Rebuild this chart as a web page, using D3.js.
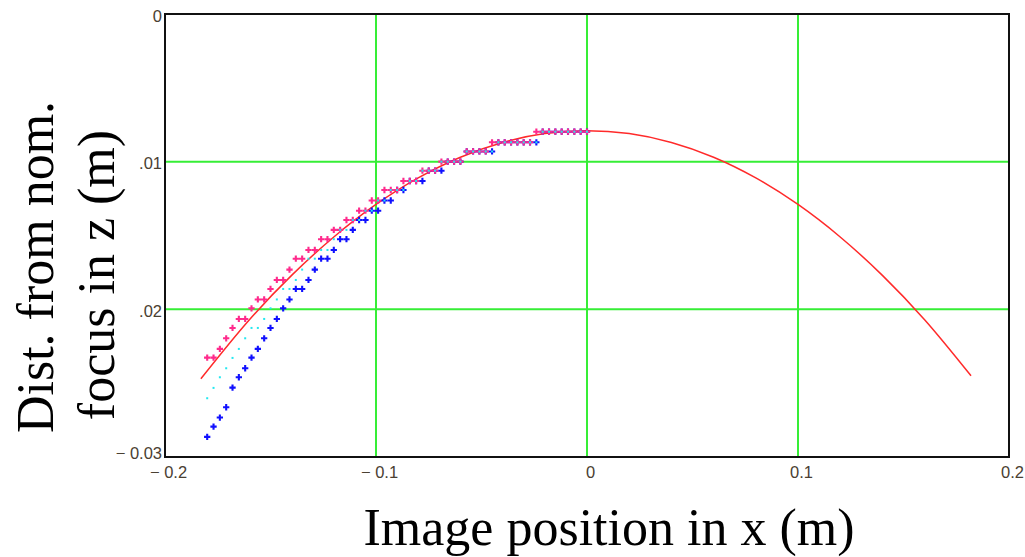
<!DOCTYPE html>
<html>
<head>
<meta charset="utf-8">
<script src="https://cdn.jsdelivr.net/npm/d3@7"></script>
<style>
  html, body { margin: 0; padding: 0; background: #fff; }
  svg { display: block; }
</style>
</head>
<body>
<svg id="chart" width="1025" height="557"></svg>
<script>
// ---------------- data ----------------
const xTicks = [-0.2, -0.1, 0, 0.1, 0.2];
const xTickLabels = ["\u2212 0.2", "\u2212 0.1", "0", "0.1", "0.2"];
const yTicks = [0, -0.01, -0.02, -0.03];
const yTickLabels = ["0", ".01", ".02", "\u2212 0.03"];
const xGrid = [-0.1, 0, 0.1];
const yGrid = [-0.01, -0.02];

// fitted curve (red)
const curveX = [-0.183, -0.16, -0.14, -0.12, -0.10, -0.08, -0.06, -0.04, -0.02, 0,
                 0.02, 0.04, 0.06, 0.08, 0.10, 0.12, 0.14, 0.16, 0.182];
const curveY = [-0.0247, -0.0207, -0.0177, -0.0151, -0.0129, -0.0111, -0.0097, -0.0087, -0.0081, -0.0079,
                -0.0081, -0.0087, -0.0097, -0.0111, -0.0129, -0.0151, -0.0177, -0.0207, -0.0245];

// measured image positions
const sampleX = [-0.180, -0.177, -0.174, -0.171, -0.168, -0.165, -0.162, -0.159, -0.156, -0.153,
                 -0.150, -0.147, -0.144, -0.141, -0.138, -0.135, -0.132, -0.129, -0.126, -0.123,
                 -0.120, -0.117, -0.114, -0.111, -0.108, -0.105, -0.102, -0.099, -0.096, -0.093,
                 -0.090, -0.087, -0.084, -0.081, -0.078, -0.075, -0.072, -0.069, -0.066, -0.063,
                 -0.060, -0.057, -0.054, -0.051, -0.048, -0.045, -0.042, -0.039, -0.036, -0.033,
                 -0.030, -0.027, -0.024, -0.021, -0.018, -0.015, -0.012, -0.009, -0.006, -0.003, 0.000];

const pinkY = [-0.02327, -0.02327, -0.02268, -0.02196, -0.02126, -0.02065, -0.02065, -0.01993, -0.01933, -0.01933,
               -0.01862, -0.01801, -0.01801, -0.01731, -0.01657, -0.01657, -0.01598, -0.01598, -0.01525, -0.01525,
               -0.01462, -0.01462, -0.01395, -0.01395, -0.01332, -0.01332, -0.01263, -0.01263, -0.01192, -0.01192,
               -0.01192, -0.01131, -0.01131, -0.01131, -0.01061, -0.01061, -0.01061, -0.01000, -0.01000, -0.01000,
               -0.01000, -0.00931, -0.00931, -0.00931, -0.00931, -0.00869, -0.00869, -0.00869, -0.00869, -0.00869,
               -0.00869, -0.00869, -0.00797, -0.00797, -0.00797, -0.00797, -0.00797, -0.00797, -0.00797, -0.00797, -0.00797];

const blueY = [-0.02864, -0.02794, -0.02733, -0.02663, -0.02530, -0.02460, -0.02399, -0.02327, -0.02268, -0.02196,
               -0.02126, -0.02065, -0.01993, -0.01933, -0.01862, -0.01862, -0.01801, -0.01731, -0.01657, -0.01657,
               -0.01598, -0.01525, -0.01525, -0.01462, -0.01395, -0.01395, -0.01332, -0.01332, -0.01263, -0.01263,
               -0.01192, -0.01192, -0.01131, -0.01131, -0.01131, -0.01061, -0.01061, -0.01061, -0.01000, -0.01000,
               -0.01000, -0.00931, -0.00931, -0.00931, -0.00931, -0.00931, -0.00869, -0.00869, -0.00869, -0.00869,
               -0.00869, -0.00869, -0.00869, -0.00797, -0.00797, -0.00797, -0.00797, -0.00797, -0.00797, -0.00797, -0.00797];

const cyanY = [-0.02602, -0.02532, -0.02460, -0.02399, -0.02329, -0.02268, -0.02196, -0.02126, -0.02126, -0.02065,
               -0.01993, -0.01933, -0.01862, -0.01862, -0.01801, -0.01731, -0.01657, -0.01657, -0.01598, -0.01598,
               -0.01525, -0.01462, -0.01462, -0.01395, -0.01395, -0.01332, -0.01332, -0.01263, -0.01263, -0.01192,
               -0.01192, -0.01192, -0.01131, -0.01131, -0.01061, -0.01061, -0.01061, -0.01000, -0.01000, -0.01000,
               -0.01000, -0.00931, -0.00931, -0.00931, -0.00931, -0.00931, -0.00869, -0.00869, -0.00869, -0.00869,
               -0.00869, -0.00869, -0.00869, -0.00797, -0.00797, -0.00797, -0.00797, -0.00797, -0.00797, -0.00797, -0.00797];

const xTitle = "Image position in x (m)";
const yTitleLines = ["Dist. from nom.", "focus in z (m)"];

// ---------------- drawing ----------------
const svg = d3.select("#chart");
const plot = { left: 165, right: 1009, top: 14, bottom: 457 };

const x = d3.scaleLinear().domain([-0.2, 0.2]).range([plot.left, plot.right]);
const y = d3.scaleLinear().domain([0, -0.03]).range([plot.top, plot.bottom]);

// grid
const grid = svg.append("g").attr("stroke", "#36ee36").attr("stroke-width", 2);
grid.selectAll("line.vx").data(xGrid).join("line")
  .attr("x1", d => x(d)).attr("x2", d => x(d))
  .attr("y1", plot.top).attr("y2", plot.bottom);
grid.selectAll("line.hy").data(yGrid).join("line")
  .attr("y1", d => y(d)).attr("y2", d => y(d))
  .attr("x1", plot.left).attr("x2", plot.right);

// red curve
const curveData = curveX.map((v, i) => [v, curveY[i]]);
svg.append("path")
  .datum(curveData)
  .attr("fill", "none")
  .attr("stroke", "#ff2a2a")
  .attr("stroke-width", 1.5)
  .attr("d", d3.line().x(d => x(d[0])).y(d => y(d[1])).curve(d3.curveCatmullRom));

// markers
const cross = d3.symbol().type(d3.symbolCross).size(22);
const blueData = sampleX.map((v, i) => [v, blueY[i]]);
const pinkData = sampleX.map((v, i) => [v, pinkY[i]]);
const cyanData = sampleX.map((v, i) => [v, cyanY[i]]);

svg.append("g").selectAll("path").data(blueData).join("path")
  .attr("d", cross)
  .attr("transform", d => `translate(${x(d[0])},${y(d[1])})`)
  .attr("fill", "#1010ff");

svg.append("g").selectAll("path").data(pinkData).join("path")
  .attr("d", cross)
  .attr("transform", d => `translate(${x(d[0])},${y(d[1])})`)
  .attr("fill", "#ff2a8c");

svg.append("g").selectAll("rect").data(cyanData).join("rect")
  .attr("x", d => x(d[0]) - 1).attr("y", d => y(d[1]) - 1)
  .attr("width", 2).attr("height", 2)
  .attr("fill", "#22e8f0");

// frame
svg.append("rect")
  .attr("x", plot.left).attr("y", plot.top)
  .attr("width", plot.right - plot.left).attr("height", plot.bottom - plot.top)
  .attr("fill", "none").attr("stroke", "#111").attr("stroke-width", 2);

// axes (labels only)
const xAxis = d3.axisBottom(x).tickValues(xTicks)
  .tickFormat((d, i) => xTickLabels[i]).tickSize(0).tickPadding(9);
const gx = svg.append("g").attr("transform", `translate(0,${plot.bottom})`).call(xAxis);
gx.select(".domain").remove();
gx.selectAll("text").attr("dx", 3)
  .attr("font-family", "'Liberation Sans', Arial, sans-serif").attr("font-size", 16.5).attr("fill", "#4a4032");

const yAxis = d3.axisLeft(y).tickValues(yTicks)
  .tickFormat((d, i) => yTickLabels[i]).tickSize(0).tickPadding(3);
const gy = svg.append("g").attr("transform", `translate(${plot.left},0)`).call(yAxis);
gy.select(".domain").remove();
gy.selectAll("text").attr("y", (d, i) => i === yTicks.length - 1 ? -4 : 2)
  .attr("font-family", "'Liberation Sans', Arial, sans-serif").attr("font-size", 16.5).attr("fill", "#4a4032");

// titles
svg.append("text")
  .attr("x", 609).attr("y", 545)
  .attr("text-anchor", "middle")
  .attr("font-family", "'Liberation Serif', 'Times New Roman', serif")
  .attr("font-size", 52).attr("fill", "#000")
  .text(xTitle);

const yTitleX = [53, 114];
const yTitleCy = [267, 275];
svg.append("g").selectAll("text").data(yTitleLines).join("text")
  .attr("transform", (d, i) => `translate(${yTitleX[i]},${yTitleCy[i]}) rotate(-90)`)
  .attr("text-anchor", "middle")
  .attr("font-family", "'Liberation Serif', 'Times New Roman', serif")
  .attr("font-size", 52).attr("fill", "#000")
  .text(d => d);
</script>
</body>
</html>
